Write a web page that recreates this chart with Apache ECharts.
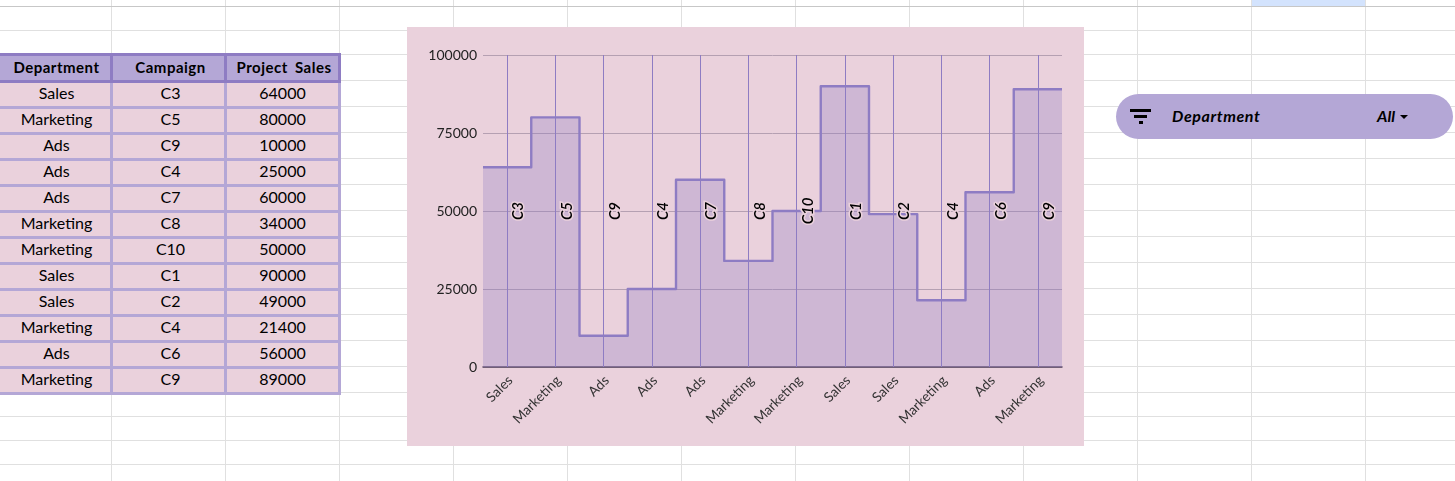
<!DOCTYPE html>
<html>
<head>
<meta charset="utf-8">
<script src="https://cdn.jsdelivr.net/npm/echarts@6/dist/echarts.min.js"></script>
<style>
html,body{margin:0;padding:0;width:1455px;height:481px;overflow:hidden;background:#fff;font-family:"Comic Sans MS",Lato,sans-serif;color:#000}
.g{position:absolute;background:#e0e0e0}
#sel{position:absolute;left:1252px;top:0;width:113px;height:6px;background:#d3e3fd}
table{position:absolute;left:-5px;top:52.5px;border-collapse:collapse;table-layout:fixed;width:343px}
td,th{box-sizing:border-box;height:26px;padding:0 0 2px 0;text-align:center;font-size:16px;line-height:20px;background:#ead1dc;border:3px solid #b4a7d6;font-weight:400;white-space:nowrap}
td:nth-child(1),th:nth-child(1){padding-left:5px}
td:nth-child(2),th:nth-child(2){padding-left:4px}
th:nth-child(3){padding-left:3px}
th{background:#b4a7d6;border-color:#8e7cc3;font-weight:700;font-size:15px;letter-spacing:.5px;word-spacing:3px;height:27px}
#chart{position:absolute;left:407px;top:27px;width:677px;height:419px}
#slicer{position:absolute;left:1116px;top:94px;width:337px;height:45px;border-radius:22.5px;background:#b4a7d6;font-style:italic;font-weight:700;font-size:16px;line-height:43px}
#slicer i{position:absolute;background:#000;height:3px}
#slicer .n{position:absolute;left:56px;top:0;letter-spacing:.6px}
#slicer .a{position:absolute;left:261px;top:0}
#slicer .t{position:absolute;left:284px;top:20.5px;width:0;height:0;border-left:4.5px solid transparent;border-right:4.5px solid transparent;border-top:4.5px solid #000}
</style>
</head>
<body>
<div id="sel"></div>
<div id="sheet"></div>
<table id="tbl"><colgroup><col style="width:115px"><col style="width:114px"><col style="width:114px"></colgroup><thead><tr id="head"></tr></thead><tbody id="rows"></tbody></table>
<div id="chart"></div>
<div id="slicer">
<i style="left:14px;top:14.5px;width:21px"></i><i style="left:18px;top:20.5px;width:13px"></i><i style="left:22.5px;top:26.5px;width:4px"></i>
<span class="n">Department</span><span class="a">All</span><span class="t"></span>
</div>
<script>
const headers = ['Department', 'Campaign', 'Project Sales'];
const departments = ['Sales','Marketing','Ads','Ads','Ads','Marketing','Marketing','Sales','Sales','Marketing','Ads','Marketing'];
const campaigns = ['C3','C5','C9','C4','C7','C8','C10','C1','C2','C4','C6','C9'];
const sales = [64000,80000,10000,25000,60000,34000,50000,90000,49000,21400,56000,89000];
const yTicks = [0,25000,50000,75000,100000];

// spreadsheet backdrop
const colLines = [111,225,339,453,567,681,795,909,1023,1137,1251,1365];
const rowLines = [30,54,80,106,132,158,184,210,236,262,288,314,340,366,392,416,440,464];
const sheet = document.getElementById('sheet');
function addLine(css){const d=document.createElement('div');d.className='g';d.style.cssText=css;sheet.appendChild(d);}
colLines.forEach(x=>addLine(`left:${x}px;top:0;width:1px;height:481px`));
rowLines.forEach(y=>addLine(`left:0;top:${y}px;width:1455px;height:1px`));
addLine('left:0;top:6px;width:1455px;height:1px;background:#c7c7c7');

document.getElementById('head').innerHTML = headers.map(h=>`<th>${h}</th>`).join('');
document.getElementById('rows').innerHTML = departments.map((d,i)=>`<tr><td>${d}</td><td>${campaigns[i]}</td><td>${sales[i]}</td></tr>`).join('');

// step outline spans each full category band
const stepData = [];
sales.forEach((v,i)=>{stepData.push([i,v]);stepData.push([i+1,v]);});

const FONT = '"Comic Sans MS",Lato,sans-serif';
const chart = echarts.init(document.getElementById('chart'));
chart.setOption({
  animation:false,
  backgroundColor:'#ead1dc',
  grid:{left:76,right:22,top:28,height:312},
  xAxis:[
    {type:'category',data:departments,boundaryGap:true,
     axisTick:{show:false},
     axisLine:{show:true,onZero:false,lineStyle:{color:'#5b4a63',width:1.5}},
     axisLabel:{interval:0,rotate:45,margin:8,formatter:v=>`{a|${v}}`,
       rich:{a:{fontFamily:FONT,fontSize:13.7,color:'#333',padding:[9,0,0,0]}}},
     splitLine:{show:false}},
    {type:'value',min:0,max:12,show:false}
  ],
  yAxis:{type:'value',min:yTicks[0],max:yTicks[yTicks.length-1],interval:yTicks[1]-yTicks[0],
    axisLine:{show:false},axisTick:{show:false},
    axisLabel:{fontFamily:FONT,fontSize:14,color:'#222',margin:6,formatter:v=>String(v)},
    splitLine:{lineStyle:{color:'#b5a0b2',width:1}}},
  series:[
    {type:'line',name:'Project Sales',xAxisIndex:1,data:stepData,symbol:'none',z:3,
     lineStyle:{color:'#8e7cc3',width:2.4,join:'round'},
     areaStyle:{color:'#8e7cc3',opacity:0.3},
     silent:true},
    {type:'line',name:'Campaign',xAxisIndex:0,data:[],z:4,silent:true,
     markLine:{silent:true,symbol:'none',animation:false,
       lineStyle:{color:'#8e7cc3',width:1,type:'solid'},
       label:{show:true,position:'insideMiddleBottom',formatter:'{b}',rotate:90,distance:4,
              fontFamily:FONT,fontStyle:'italic',fontWeight:600,fontSize:15,color:'#000',
              textBorderColor:'#ead1dc',textBorderWidth:3},
       data:campaigns.map((c,i)=>({name:c,xAxis:i}))}}
  ]
});
</script>
</body>
</html>
